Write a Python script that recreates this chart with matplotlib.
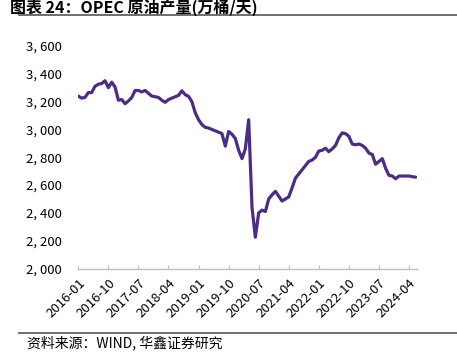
import matplotlib
matplotlib.use("Agg")
import matplotlib.pyplot as plt
import numpy as np

plt.rcParams['font.family'] = ['Noto Sans CJK SC', 'DejaVu Sans']

title = "图表 24：OPEC 原油产量(万桶/天)"
source = "资料来源：WIND, 华鑫证券研究"

values = [
    3240, 3225, 3230, 3265, 3265, 3310, 3325, 3330, 3350, 3300,
    3340, 3305, 3210, 3215, 3185, 3205, 3230, 3280, 3280, 3270,
    3280, 3260, 3240, 3235, 3230, 3210, 3195, 3215, 3225, 3235,
    3245, 3278, 3250, 3238, 3200, 3120, 3070, 3035, 3015, 3010,
    3000, 2990, 2980, 2970, 2880, 2985, 2965, 2935, 2850, 2790,
    2860, 3070, 2440, 2225, 2400, 2420, 2410, 2500, 2530, 2555,
    2520, 2485, 2500, 2515, 2580, 2650, 2680, 2710, 2740, 2770,
    2780, 2800, 2845, 2850, 2865, 2840, 2860, 2885, 2940, 2975,
    2970, 2950, 2895, 2890, 2895, 2885, 2865, 2830, 2820, 2750,
    2770, 2790, 2720, 2670, 2665, 2645, 2665, 2665, 2665, 2665,
    2660, 2657,
]
tick_labels = ["2016-01", "2016-10", "2017-07", "2018-04", "2019-01", "2019-10",
               "2020-07", "2021-04", "2022-01", "2022-10", "2023-07", "2024-04"]
yticks = [2000, 2200, 2400, 2600, 2800, 3000, 3200, 3400, 3600]

fig = plt.figure(figsize=(4.57, 3.53), dpi=100)
ax = fig.add_axes([78.3/457, 1-268.5/353, (416.7-78.3)/457, (268.5-46)/353])

x = np.arange(len(values))
ax.plot(x, values, color='#4b2c86', lw=2.3, solid_joinstyle='round', solid_capstyle='round')

ax.set_xlim(0, 101.3)
ax.set_ylim(2000, 3600)
ax.set_yticks(yticks)
ax.set_yticklabels([f"{v:,}".replace(",", ", ") for v in yticks], fontsize=9.5)
ax.set_xticks(np.arange(0, 9*len(tick_labels), 9))
ax.set_xticklabels(tick_labels, rotation=45, ha='right', va='top',
                   rotation_mode='anchor', fontsize=9.5)
for s in ['top', 'right', 'left']:
    ax.spines[s].set_visible(False)
ax.spines['bottom'].set_color('#bfbfbf')
ax.spines['bottom'].set_linewidth(1.0)
ax.tick_params(axis='y', length=0, pad=12)
ax.tick_params(axis='x', direction='in', length=3, color='#bfbfbf', pad=6)

fig.text(10/457, 1-7.5/353, title, fontsize=11.5, fontweight='bold', va='center', ha='left')
fig.add_artist(plt.Line2D([19/457, 1.0], [1-14.5/353, 1-14.5/353], color='#555555', lw=1.2))
fig.add_artist(plt.Line2D([19/457, 1.0], [1-333/353, 1-333/353], color='#555555', lw=1.2))
fig.text(27/457, 1-343/353, source, fontsize=10, va='center', ha='left')

fig.savefig("out.png", dpi=100)
